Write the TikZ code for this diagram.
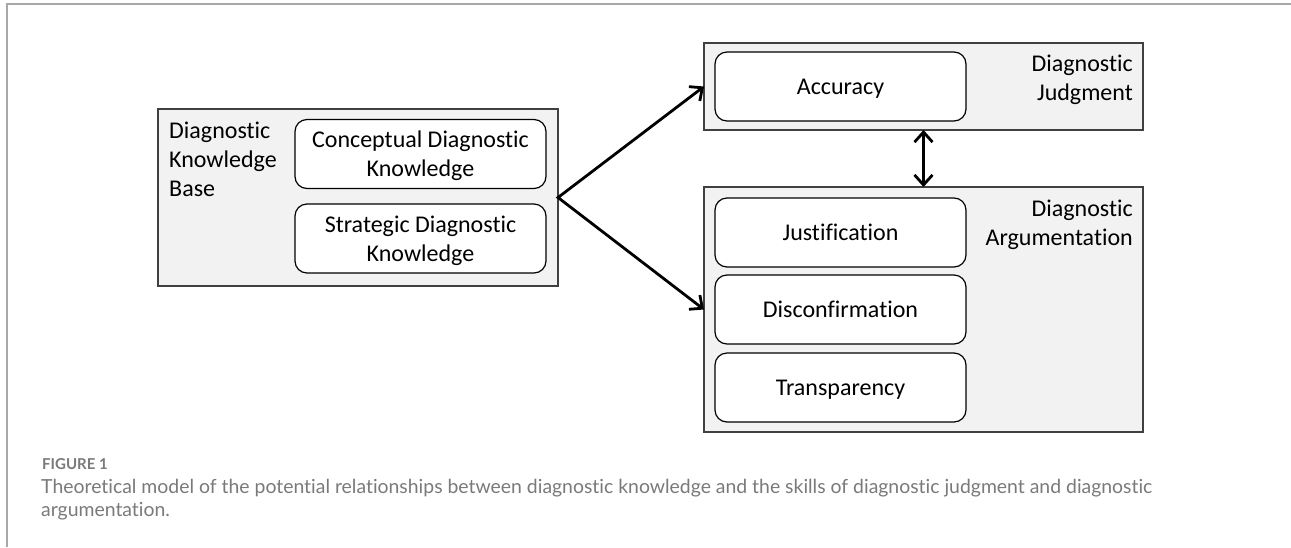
\documentclass[tikz,border=0pt]{standalone}
\usepackage{fontspec}
\setmainfont{Carlito}[Ligatures={TeX,NoCommon}]
\newfontfamily\capfont{Lato}[Ligatures={TeX,NoCommon}]
\usetikzlibrary{arrows.meta}
\definecolor{boxfill}{HTML}{F2F2F2}
\definecolor{boxline}{HTML}{404040}
\definecolor{framegray}{HTML}{A8A8A8}
\definecolor{capgray}{HTML}{7A7A7A}
\begin{document}
\begin{tikzpicture}[x=1pt,y=-1pt,
  container/.style={draw=boxline, fill=boxfill, line width=1.5pt, inner sep=0pt, outer sep=0pt},
  item/.style={draw=black, fill=white, rounded corners=12pt, line width=1.2pt,
    minimum width=251pt, minimum height=69pt, inner sep=0pt, align=center,
    text depth=0pt, font=\fontsize{24}{29}\selectfont},
  grouplabel/.style={inner sep=0pt, font=\fontsize{24}{29}\selectfont},
  link/.style={line width=2.8pt, line join=miter,
    {Straight Barb[length=10pt,width=18pt]}-{Straight Barb[length=10pt,width=18pt]}},
  captext/.style={anchor=base west, inner sep=0pt, text=capgray, font=\capfont\fontsize{19.4}{26}\selectfont},
]
\useasboundingbox (0,0) rectangle (1291,547);
\fill[white] (0,0) rectangle (1291,547);
\draw[framegray, line width=1.5pt] (1291,4) -- (7,4) -- (7,547);

% containers
\node[container, minimum width=400pt, minimum height=177pt] (kb) at (358,197.5) {};
\node[container, minimum width=439pt, minimum height=87pt] (judg) at (923.5,86.5) {};
\node[container, minimum width=439pt, minimum height=245pt] (arg) at (923.5,309.5) {};

% group labels
\node[grouplabel, anchor=north west, align=left] (kblab) at (169,121.5) {Diagnostic\\Knowledge\\Base};
\node[grouplabel, anchor=north east, align=right] (judglab) at (1133,54.5) {Diagnostic\\Judgment};
\node[grouplabel, anchor=north east, align=right] (arglab) at (1133,199.5) {Diagnostic\\Argumentation};

% items
\node[item] (concept) at (420.5,154) {Conceptual Diagnostic\\Knowledge};
\node[item] (strat) at (420.5,238.5) {Strategic Diagnostic\\Knowledge};
\node[item] (acc) at (840.5,86.5) {Accuracy};
\node[item] (just) at (840.5,232.5) {Justification};
\node[item] (disc) at (840.5,309.5) {Disconfirmation};
\node[item] (trans) at (840.5,387.5) {Transparency};

% connectors
\draw[link] (judg.west) -- (kb.east) -- (arg.west);
\draw[link] (judg.south) -- (arg.north);

% caption
\node[captext, font=\capfont\bfseries\fontsize{15}{18}\selectfont] (fig) at (42,469.5) {FIGURE 1};
\node[captext] (cap1) at (41,493) {Theoretical model of the potential relationships between diagnostic knowledge and the skills of diagnostic judgment and diagnostic};
\node[captext] (cap2) at (41,516) {argumentation.};
\end{tikzpicture}
\end{document}
